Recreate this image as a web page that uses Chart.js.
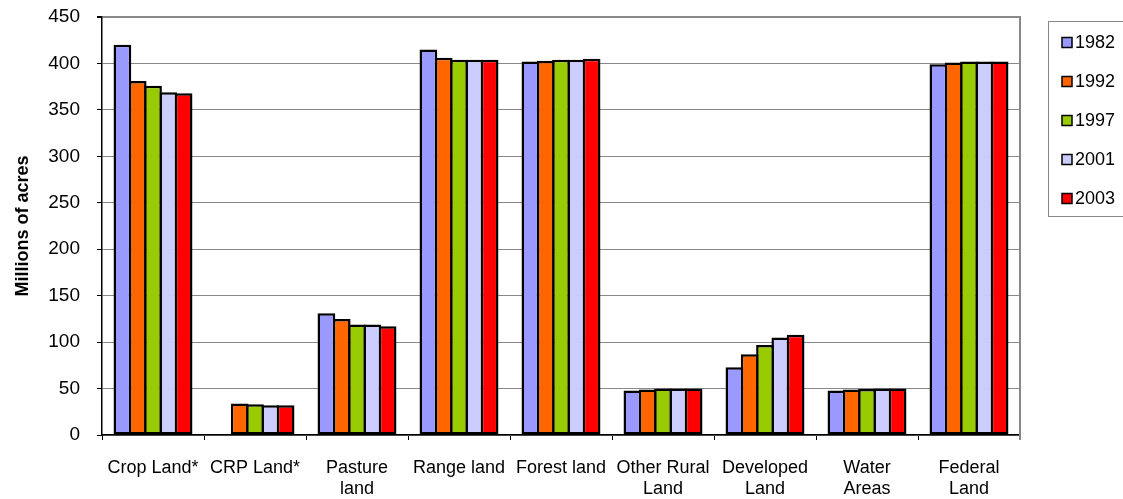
<!DOCTYPE html>
<html>
<head>
<meta charset="utf-8">
<script src="https://cdn.jsdelivr.net/npm/chart.js@4"></script>
<style>
  html, body { margin: 0; padding: 0; background: #fff; }
  #wrap { width: 1123px; height: 499px; }
</style>
</head>
<body>
<div id="wrap"><canvas id="c" width="1123" height="499"></canvas></div>
<script>
const categories = ["Crop Land*", "CRP Land*", ["Pasture", "land"], "Range land", "Forest land",
  ["Other Rural", "Land"], ["Developed", "Land"], ["Water", "Areas"], ["Federal", "Land"]];
const seriesNames = ["1982", "1992", "1997", "2001", "2003"];
const values1982 = [420, null, 131, 415, 402, 48, 73, 48, 399];
const values1992 = [381, 34, 125, 406, 403, 49, 87, 49, 401];
const values1997 = [376, 33, 119, 404, 404, 50, 97, 49.5, 402];
const values2001 = [369, 32, 119, 404, 404, 50, 105, 50, 402];
const values2003 = [368, 32, 117, 404, 405, 50, 108, 50, 402];
const yTicks = [0, 50, 100, 150, 200, 250, 300, 350, 400, 450];
const colors = ["#9999FF", "#FF6600", "#99CC00", "#CCCCFF", "#FF0000"];

const FONT = "'Liberation Sans', Arial, sans-serif";

const allSeries = [values1982, values1992, values1997, values2001, values2003];
const datasets = allSeries.map((vals, i) => ({
  label: seriesNames[i],
  data: vals,
  backgroundColor: colors[i],
  borderColor: "#000",
  borderWidth: 2.5,
  borderSkipped: false,
  categoryPercentage: 0.75,
  barPercentage: 1.16
}));

const frameAndLegend = {
  id: "frameAndLegend",
  afterDatasetsDraw(chart) {
    const { ctx, chartArea } = chart;
    ctx.save();
    ctx.strokeStyle = "#888";
    ctx.lineWidth = 2;
    ctx.beginPath();
    ctx.moveTo(chartArea.right, chartArea.top - 1);
    ctx.lineTo(chartArea.right, chartArea.bottom + 5);
    ctx.stroke();
    ctx.restore();
  },
  afterDraw(chart) {
    const { ctx } = chart;
    ctx.save();
    ctx.strokeStyle = "#888";
    ctx.lineWidth = 1;
    ctx.strokeRect(1048.5, 21.5, 110, 195);
    ctx.font = "18px " + FONT;
    ctx.textBaseline = "middle";
    ctx.textAlign = "left";
    chart.data.datasets.forEach((ds, i) => {
      const cy = 42.5 + i * 39;
      ctx.fillStyle = ds.backgroundColor;
      ctx.fillRect(1062, cy - 5, 10, 10);
      ctx.strokeStyle = "#000";
      ctx.lineWidth = 1.5;
      ctx.strokeRect(1062, cy - 5, 10, 10);
      ctx.fillStyle = "#000";
      ctx.fillText(ds.label, 1075, cy + 1);
    });
    ctx.restore();
  }
};

new Chart(document.getElementById("c"), {
  type: "bar",
  data: { labels: categories, datasets },
  plugins: [frameAndLegend],
  options: {
    responsive: false,
    devicePixelRatio: 1,
    animation: false,
    layout: { padding: { left: 0, right: 103, top: 17, bottom: 0 } },
    plugins: { legend: { display: false }, tooltip: { enabled: false } },
    scales: {
      x: {
        grid: { display: true, drawOnChartArea: false, drawTicks: true, tickLength: 5, offset: true, color: "#000" },
        border: { color: "#000", width: 1.5 },
        ticks: { color: "#000", font: { family: FONT, size: 18 }, padding: 17, maxRotation: 0, autoSkip: false },
        afterFit(scale) { scale.height = 64; scale.paddingLeft = 0; scale.paddingRight = 0; }
      },
      y: {
        min: 0, max: 450,
        afterBuildTicks(scale) { scale.ticks = yTicks.map(v => ({ value: v })); },
        grid: {
          color: "#888",
          tickColor: "#000",
          tickLength: 5,
          lineWidth: (c) => (c.tick && c.tick.value === 450 ? 2 : 1)
        },
        border: { color: "#000", width: 1.5 },
        ticks: { color: "#000", font: { family: FONT, size: 19 }, padding: 17 },
        title: {
          display: true, text: "Millions of acres", color: "#000",
          font: { family: FONT, size: 18, weight: "bold" },
          padding: { top: 12, bottom: 0 }
        },
        afterFit(scale) { scale.width = 102; scale.paddingTop = 0; scale.paddingBottom = 0; }
      }
    }
  }
});
</script>
</body>
</html>
